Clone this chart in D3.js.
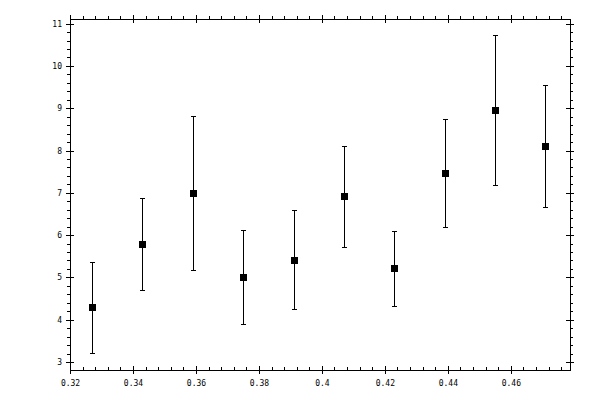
<!DOCTYPE html>
<html>
<head>
<meta charset="utf-8">
<script src="https://cdn.jsdelivr.net/npm/d3@7"></script>
<style>
  body { margin: 0; background: #fff; }
  text { font-family: "DejaVu Sans Mono", monospace; font-size: 8px; fill: #000; }
</style>
</head>
<body>
<svg width="600" height="400"></svg>
<script>
// data
var xValues = [0.327, 0.343, 0.359, 0.375, 0.391, 0.407, 0.423, 0.439, 0.455, 0.471];
var yValues = [4.30, 5.79, 7.00, 5.01, 5.41, 6.92, 5.22, 7.47, 8.96, 8.11];
var yLow    = [3.22, 4.70, 5.18, 3.90, 4.25, 5.72, 4.32, 6.19, 7.19, 6.67];
var yHigh   = [5.36, 6.88, 8.82, 6.12, 6.59, 8.11, 6.10, 8.75, 10.73, 9.55];
var xTicks = [0.32, 0.34, 0.36, 0.38, 0.40, 0.42, 0.44, 0.46];
var xTickLabels = ["0.32", "0.34", "0.36", "0.38", "0.4", "0.42", "0.44", "0.46"];
var yTicks = [3, 4, 5, 6, 7, 8, 9, 10, 11];

var svg = d3.select("svg"),
    margin = {top: 19, right: 30, bottom: 30, left: 70},
    width = +svg.attr("width") - margin.left - margin.right,
    height = +svg.attr("height") - margin.top - margin.bottom,
    g = svg.append("g").attr("transform", "translate(" + margin.left + "," + margin.top + ")");

var x = d3.scaleLinear().domain([0.32, 0.4788]).range([0, width]);
var y = d3.scaleLinear().domain([2.81, 11.11]).range([height, 0]);

// minor ticks every 0.004 on x and 0.2 on y
var xMinor = d3.range(0, 40).map(function(i) { return +(0.32 + i * 0.004).toFixed(3); })
    .filter(function(v) { return v < 0.4788 && xTicks.every(function(t) { return Math.abs(t - v) > 1e-6; }); });
var yMinor = d3.range(0, 45).map(function(i) { return +(2.8 + i * 0.2).toFixed(1); })
    .filter(function(v) { return v > 2.81 && v < 11.11 && yTicks.indexOf(v) < 0; });

function addAxis(axis, tf, vals, fmt, crossing, dir) {
  var a = g.append("g").attr("transform", tf)
      .call(axis.tickValues(vals).tickFormat(fmt).tickSizeOuter(0));
  a.select(".domain").remove();
  a.selectAll("line").attr("shape-rendering", "crispEdges");
  if (crossing) {
    if (dir === "h") a.selectAll("line").attr("y1", -4).attr("y2", 4);
    else a.selectAll("line").attr("x1", -4).attr("x2", 4);
  }
  return a;
}

var none = function() { return ""; };

// bottom axis: labelled majors crossing, minors pointing inward
var xb = addAxis(d3.axisBottom(x).tickSize(4).tickPadding(6), "translate(0," + height + ")", xTicks,
    function(d, i) { return xTickLabels[i]; }, true, "h");
xb.selectAll("text").attr("dy", "0.71em");
addAxis(d3.axisTop(x).tickSize(3), "translate(0," + height + ")", xMinor, none, false);
// top axis: ticks outward
addAxis(d3.axisTop(x).tickSize(4), "translate(0,0)", xTicks, none, true, "h");
addAxis(d3.axisTop(x).tickSize(3), "translate(0,0)", xMinor, none, false);
// left axis
var yl = addAxis(d3.axisLeft(y).tickSize(4).tickPadding(4), "translate(0,0)", yTicks, d3.format("d"), true, "v");
addAxis(d3.axisLeft(y).tickSize(3), "translate(0,0)", yMinor, none, false);
// right axis
addAxis(d3.axisRight(y).tickSize(4), "translate(" + width + ",0)", yTicks, none, true, "v");
addAxis(d3.axisRight(y).tickSize(3), "translate(" + width + ",0)", yMinor, none, false);
svg.selectAll(".tick text").attr("font-family", null).attr("font-size", null);

// frame
g.append("rect")
    .attr("width", width).attr("height", height)
    .attr("fill", "none").attr("stroke", "#000")
    .attr("shape-rendering", "crispEdges");

var pts = xValues.map(function(d, i) {
  return {x: d, y: yValues[i], lo: yLow[i], hi: yHigh[i]};
});

// error bars
var bars = g.append("g").attr("stroke", "#000").attr("shape-rendering", "crispEdges");
bars.selectAll(".vbar").data(pts).enter().append("line")
    .attr("x1", function(d) { return Math.round(x(d.x)) + 0.5; })
    .attr("x2", function(d) { return Math.round(x(d.x)) + 0.5; })
    .attr("y1", function(d) { return y(d.lo); })
    .attr("y2", function(d) { return y(d.hi); });
bars.selectAll(".capHi").data(pts).enter().append("line")
    .attr("x1", function(d) { return Math.round(x(d.x)) - 2; })
    .attr("x2", function(d) { return Math.round(x(d.x)) + 3; })
    .attr("y1", function(d) { return Math.round(y(d.hi)) + 0.5; })
    .attr("y2", function(d) { return Math.round(y(d.hi)) + 0.5; });
bars.selectAll(".capLo").data(pts).enter().append("line")
    .attr("x1", function(d) { return Math.round(x(d.x)) - 2; })
    .attr("x2", function(d) { return Math.round(x(d.x)) + 3; })
    .attr("y1", function(d) { return Math.round(y(d.lo)) + 0.5; })
    .attr("y2", function(d) { return Math.round(y(d.lo)) + 0.5; });

// square markers
g.append("g").selectAll("rect").data(pts).enter().append("rect")
    .attr("x", function(d) { return Math.round(x(d.x)) - 3; })
    .attr("y", function(d) { return Math.round(y(d.y)) - 3; })
    .attr("width", 7).attr("height", 7)
    .attr("fill", "#000")
    .attr("shape-rendering", "crispEdges");
</script>
</body>
</html>
